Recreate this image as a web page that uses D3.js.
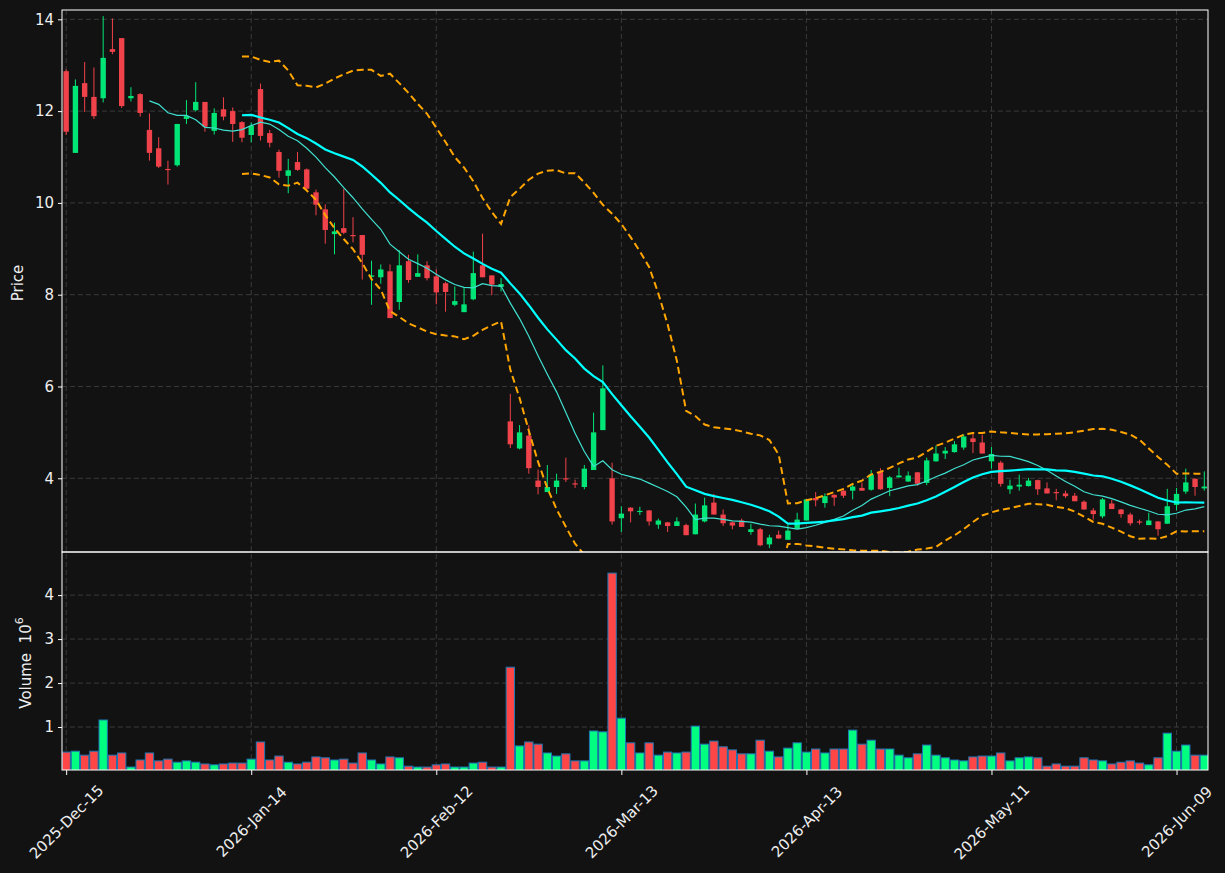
<!DOCTYPE html>
<html>
<head>
<meta charset="utf-8">
<script src="https://cdn.jsdelivr.net/npm/d3@7"></script>
<style>
  body { margin: 0; background: #121212; }
  text { font-family: "DejaVu Sans", sans-serif; fill: #eeeeee; }
</style>
</head>
<body>
<script>
// daily OHLC (124 trading days)
const opens = [12.87,11.09,12.61,12.31,12.28,13.35,13.59,12.28,12.37,11.59,11.19,10.74,10.82,11.83,12.02,12.20,11.57,12.04,12.00,11.76,
  11.48,12.48,11.52,11.11,10.59,10.89,10.73,10.23,9.86,9.32,9.45,9.30,9.30,8.39,8.38,8.51,7.84,8.73,8.39,8.64,
  8.40,8.25,7.78,7.62,7.90,8.64,8.42,8.17,5.24,4.65,4.93,3.95,3.70,3.81,4.00,3.89,3.81,4.18,5.05,4.00,
  3.13,3.36,3.27,3.30,2.99,3.04,2.96,2.98,2.78,3.06,3.47,3.21,3.04,3.08,2.83,2.89,2.56,2.77,2.66,2.90,
  3.08,3.57,3.46,3.64,3.73,3.73,3.79,3.75,4.15,3.79,4.02,3.93,4.13,3.90,4.37,4.54,4.57,4.67,4.87,4.78,
  4.37,4.34,3.76,3.82,3.83,3.96,3.78,3.70,3.67,3.62,3.49,3.30,3.17,3.45,3.32,3.21,3.06,2.98,3.06,3.01,
  3.42,3.71,3.99,3.78];
const highs = [12.91,12.69,13.07,12.95,14.07,14.02,13.59,12.52,12.39,11.95,11.43,10.92,11.72,12.24,12.63,12.20,12.06,12.30,12.08,11.78,
  11.75,12.60,11.59,11.16,10.96,11.11,10.75,10.29,9.97,9.57,10.31,9.69,9.30,8.74,8.66,8.66,8.97,8.87,8.88,8.73,
  8.55,8.28,8.18,8.15,8.94,9.33,8.42,8.36,5.84,5.16,5.16,4.19,4.29,4.10,4.45,3.97,4.29,5.43,6.46,4.34,
  3.39,3.37,3.38,3.31,3.12,3.05,3.15,3.01,3.45,3.58,3.66,3.32,3.06,3.12,3.01,2.92,2.77,2.86,2.98,3.25,
  3.54,3.70,3.67,3.65,3.78,3.88,3.91,4.18,4.22,4.05,4.23,4.15,4.14,4.45,4.71,4.68,4.81,4.96,4.98,4.95,
  4.68,4.38,3.97,4.08,4.01,3.97,3.91,3.77,3.73,3.68,3.52,3.35,3.57,3.53,3.33,3.25,3.10,3.25,3.07,3.77,
  3.79,4.21,4.00,4.15];
const lows = [11.48,11.09,11.98,11.83,12.19,13.24,12.07,12.21,11.88,10.92,10.76,10.40,10.79,11.72,11.99,11.55,11.49,11.80,11.33,11.32,
  11.32,11.36,11.21,10.55,10.21,10.70,10.28,9.73,9.11,8.88,9.32,9.14,8.33,7.78,8.24,7.49,7.67,8.26,8.39,8.31,
  7.79,7.63,7.75,7.62,7.88,8.38,7.99,8.07,4.66,4.63,4.10,3.65,3.70,3.66,3.92,3.79,3.76,4.18,5.05,2.99,
  2.83,3.04,3.20,2.97,2.90,2.83,2.96,2.76,2.78,3.04,3.21,2.96,2.89,2.94,2.77,2.52,2.48,2.68,2.66,2.89,
  3.08,3.39,3.36,3.40,3.57,3.54,3.73,3.73,3.75,3.61,4.02,3.92,3.84,3.85,4.36,4.42,4.56,4.62,4.55,4.54,
  4.21,3.82,3.66,3.73,3.82,3.64,3.67,3.52,3.57,3.50,3.32,3.10,3.13,3.33,3.14,2.97,2.99,2.98,2.75,3.01,
  3.30,3.66,3.62,3.73];
const closes = [11.55,12.55,12.31,11.89,13.16,13.29,12.11,12.33,11.96,11.09,10.79,10.72,11.72,11.89,12.20,11.66,11.96,11.88,11.72,11.42,
  11.68,11.46,11.31,10.70,10.71,10.72,10.31,9.96,9.41,9.38,9.35,9.28,8.87,8.42,8.55,7.49,8.64,8.32,8.47,8.36,
  8.05,8.06,7.86,7.79,8.47,8.38,8.22,8.23,4.74,5.00,4.22,3.81,3.81,3.95,3.98,3.87,4.21,5.00,5.96,3.06,
  3.23,3.28,3.29,3.06,3.08,2.96,3.06,2.76,3.21,3.41,3.21,3.02,2.97,2.94,2.89,2.54,2.71,2.69,2.86,3.10,
  3.54,3.52,3.61,3.58,3.62,3.82,3.73,4.08,3.76,4.02,4.06,4.06,3.88,4.39,4.54,4.60,4.74,4.91,4.79,4.54,
  4.53,3.88,3.84,3.86,3.95,3.76,3.67,3.68,3.61,3.50,3.32,3.22,3.54,3.33,3.22,3.02,3.04,3.08,2.89,3.39,
  3.66,3.91,3.81,3.82];
// volume in millions
const volumes = [0.43,0.45,0.36,0.45,1.16,0.36,0.41,0.09,0.25,0.41,0.23,0.27,0.20,0.23,0.20,0.16,0.14,0.16,0.18,0.18,
  0.27,0.66,0.25,0.34,0.20,0.16,0.20,0.32,0.30,0.25,0.27,0.18,0.41,0.25,0.16,0.32,0.30,0.11,0.09,0.09,
  0.14,0.16,0.09,0.09,0.18,0.20,0.09,0.09,2.36,0.57,0.66,0.61,0.41,0.34,0.39,0.23,0.23,0.91,0.89,4.50,
  1.20,0.64,0.41,0.64,0.36,0.43,0.41,0.43,1.02,0.61,0.68,0.55,0.48,0.39,0.39,0.70,0.45,0.32,0.52,0.64,
  0.43,0.50,0.41,0.50,0.50,0.93,0.61,0.70,0.50,0.50,0.36,0.30,0.39,0.59,0.36,0.30,0.25,0.23,0.32,0.34,
  0.34,0.41,0.23,0.30,0.32,0.30,0.11,0.16,0.11,0.11,0.30,0.25,0.23,0.16,0.20,0.23,0.18,0.14,0.30,0.86,
  0.45,0.59,0.36,0.36];

const tickIndex = [0, 20, 40, 60, 80, 100, 120];
const tickLabels = ['2025-Dec-15', '2026-Jan-14', '2026-Feb-12', '2026-Mar-13', '2026-Apr-13', '2026-May-11', '2026-Jun-09'];
const priceTicks = [4, 6, 8, 10, 12, 14];
const volTicks = [1, 2, 3, 4];

const n = closes.length;

// moving averages + bollinger (20, 2)
function sma(arr, p) {
  return arr.map((_, i) => i < p - 1 ? null : d3.mean(arr.slice(i - p + 1, i + 1)));
}
function rollStd(arr, p) {
  return arr.map((_, i) => {
    if (i < p - 1) return null;
    const w = arr.slice(i - p + 1, i + 1), m = d3.mean(w);
    return Math.sqrt(d3.mean(w, v => (v - m) * (v - m)));
  });
}
const ma10 = sma(closes, 10);
const ma20 = sma(closes, 20);
const sd20 = rollStd(closes, 20);
const bbUp = ma20.map((m, i) => m == null ? null : m + 2 * sd20[i]);
const bbLo = ma20.map((m, i) => m == null ? null : m - 2 * sd20[i]);

const W = 1225, H = 873;
const left = 62, right = 1208, pTop = 10, pBot = 552, vTop = 552, vBot = 770;
const upC = '#00e676', dnC = '#f0424a', upV = '#00ff80', dnV = '#ff4646';
const fs = '15px';

const svg = d3.select('body').append('svg')
  .attr('width', W).attr('height', H);
svg.append('rect').attr('width', W).attr('height', H).attr('fill', '#121212');

const x = d3.scaleLinear().domain([-0.45, 123.4]).range([left, right]);
const yP = d3.scaleLinear().domain([2.394, 14.203]).range([pBot, pTop]);
const yV = d3.scaleLinear().domain([0, 4.98]).range([771, vTop]);

const defs = svg.append('defs');
defs.append('clipPath').attr('id', 'clipP').append('rect')
  .attr('x', left).attr('y', pTop).attr('width', right - left).attr('height', pBot - pTop);
defs.append('clipPath').attr('id', 'clipV').append('rect')
  .attr('x', left).attr('y', vTop).attr('width', right - left).attr('height', vBot - vTop);

// grid
const grid = svg.append('g').attr('stroke', '#3a3a3a').attr('stroke-dasharray', '5,3').attr('stroke-width', 1);
priceTicks.forEach(t => grid.append('line').attr('x1', left).attr('x2', right).attr('y1', yP(t)).attr('y2', yP(t)));
volTicks.forEach(t => grid.append('line').attr('x1', left).attr('x2', right).attr('y1', yV(t)).attr('y2', yV(t)));
tickIndex.forEach(t => grid.append('line').attr('x1', x(t)).attr('x2', x(t)).attr('y1', pTop).attr('y2', vBot));

// candles
const step = x(1) - x(0);
const bodyW = step * 0.58;
const cg = svg.append('g').attr('clip-path', 'url(#clipP)');
const idx = d3.range(n);
cg.selectAll('line.wick').data(idx).enter().append('line')
  .attr('x1', i => x(i)).attr('x2', i => x(i))
  .attr('y1', i => yP(highs[i])).attr('y2', i => yP(lows[i]))
  .attr('stroke', i => closes[i] >= opens[i] ? upC : dnC)
  .attr('stroke-width', 1);
cg.selectAll('rect.body').data(idx).enter().append('rect')
  .attr('x', i => x(i) - bodyW / 2)
  .attr('width', bodyW)
  .attr('y', i => yP(Math.max(opens[i], closes[i])))
  .attr('height', i => Math.max(1.2, Math.abs(yP(opens[i]) - yP(closes[i]))))
  .attr('fill', i => closes[i] >= opens[i] ? upC : dnC);

// overlays
const line = d3.line().defined(d => d != null).x((d, i) => x(i)).y(d => yP(d));
const lg = svg.append('g').attr('clip-path', 'url(#clipP)').attr('fill', 'none');
lg.append('path').attr('d', line(bbUp)).attr('stroke', '#ffa500').attr('stroke-width', 2).attr('stroke-dasharray', '7,4');
lg.append('path').attr('d', line(bbLo)).attr('stroke', '#ffa500').attr('stroke-width', 2).attr('stroke-dasharray', '7,4');
lg.append('path').attr('d', line(ma10)).attr('stroke', '#40e0d0').attr('stroke-width', 1.2);
lg.append('path').attr('d', line(ma20)).attr('stroke', '#00ffff').attr('stroke-width', 2.2);

// volume
const vg = svg.append('g').attr('clip-path', 'url(#clipV)');
const barW = step * 0.9;
vg.selectAll('rect').data(idx).enter().append('rect')
  .attr('x', i => x(i) - barW / 2)
  .attr('width', barW)
  .attr('y', i => yV(volumes[i]))
  .attr('height', i => yV(0) - yV(volumes[i]))
  .attr('fill', i => closes[i] >= opens[i] ? upV : dnV)
  .attr('stroke', '#1f77b4')
  .attr('stroke-width', 1);

// axes
function styleAxis(g) {
  g.select('.domain').remove();
  g.selectAll('.tick line').attr('stroke', '#ffffff');
  g.selectAll('.tick text').attr('fill', '#eeeeee').style('font-size', fs).style('font-family', 'DejaVu Sans, sans-serif');
}
svg.append('g').attr('transform', `translate(${left},0)`)
  .call(d3.axisLeft(yP).tickValues(priceTicks).tickFormat(d3.format('d')).tickSize(4).tickPadding(4))
  .call(styleAxis);
svg.append('g').attr('transform', `translate(${left},0)`)
  .call(d3.axisLeft(yV).tickValues(volTicks).tickFormat(d3.format('d')).tickSize(4).tickPadding(4))
  .call(styleAxis);
const xg = svg.append('g').attr('transform', `translate(0,${vBot})`)
  .call(d3.axisBottom(x).tickValues(tickIndex).tickFormat((d, i) => tickLabels[i]).tickSize(5))
  .call(styleAxis);
xg.selectAll('.tick text')
  .attr('y', 0).attr('dy', null)
  .attr('text-anchor', 'middle')
  .attr('dominant-baseline', 'central')
  .attr('transform', 'translate(0,52) rotate(-45)');

// frames
const frame = svg.append('g').attr('fill', 'none').attr('stroke', '#ffffff').attr('stroke-width', 1);
frame.append('rect').attr('x', left).attr('y', pTop).attr('width', right - left).attr('height', pBot - pTop);
frame.append('rect').attr('x', left).attr('y', vTop).attr('width', right - left).attr('height', vBot - vTop);

// axis labels
svg.append('text').attr('transform', 'translate(18,283) rotate(-90)')
  .attr('text-anchor', 'middle').attr('dominant-baseline', 'central')
  .style('font-size', fs).text('Price');
const vl = svg.append('text').attr('transform', 'translate(26,663) rotate(-90)')
  .attr('text-anchor', 'middle').attr('dominant-baseline', 'central')
  .style('font-size', fs);
vl.append('tspan').text('Volume\u00a0\u00a010');
vl.append('tspan').attr('baseline-shift', 'super').style('font-size', '11px').text('6');
</script>
</body>
</html>
